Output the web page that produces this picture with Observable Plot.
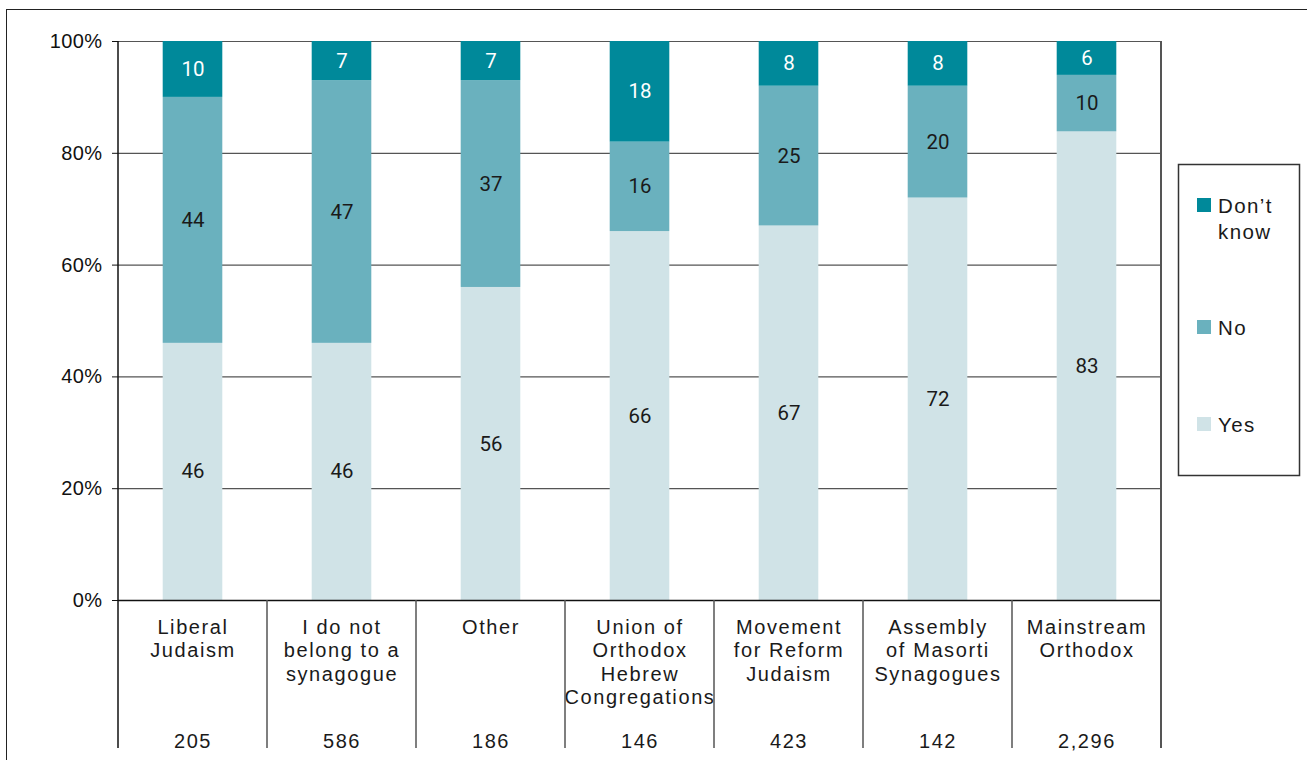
<!DOCTYPE html>
<html>
<head>
<meta charset="utf-8">
<script src="https://cdn.jsdelivr.net/npm/d3@7"></script>
<script src="https://cdn.jsdelivr.net/npm/@observablehq/plot@0.6"></script>
<style>
  html, body { margin: 0; padding: 0; background: #fff; }
  #wrap { position: relative; width: 1307px; height: 760px; overflow: hidden; }
  #frame { position: absolute; left: 6px; top: 9px; width: 1400px; height: 900px;
           border-left: 1.5px solid #222; border-top: 1.5px solid #222; pointer-events: none; }
  #legend { position: absolute; left: 0; top: 0; pointer-events: none; }
</style>
</head>
<body>
<div id="wrap"></div>
<script>
const categories = [
  "Liberal\nJudaism",
  "I do not\nbelong to a\nsynagogue",
  "Other",
  "Union of\nOrthodox\nHebrew\nCongregations",
  "Movement\nfor Reform\nJudaism",
  "Assembly\nof Masorti\nSynagogues",
  "Mainstream\nOrthodox"
];
const sampleSizes = ["205", "586", "186", "146", "423", "142", "2,296"];
const responses = ["Yes", "No", "Don\u2019t know"];
const yesValues = [46, 46, 56, 66, 67, 72, 83];
const noValues = [44, 47, 37, 16, 25, 20, 10];
const dontKnowValues = [10, 7, 7, 18, 8, 8, 6];
const yTicks = [0, 20, 40, 60, 80, 100];
const colors = ["#d0e3e7", "#6ab1be", "#00899a"];

const series = [yesValues, noValues, dontKnowValues];
const rows = [];
categories.forEach((c, i) => {
  responses.forEach((r, j) => rows.push({category: c, response: r, value: series[j][i]}));
});
const sizeRows = categories.map((c, i) => ({category: c, n: sampleSizes[i]}));

const W = 1307, H = 760;
const stackOpts = {x: "category", y: "value", z: "response", order: null, offset: "normalize"};
const catFont = "'Liberation Sans', Arial, Helvetica, sans-serif";
const valFont = "Roboto, 'Liberation Sans', sans-serif";

const chart = Plot.plot({
  width: W,
  height: H,
  marginLeft: 118,
  marginRight: 146,
  marginTop: 41,
  marginBottom: 160,
  style: {background: "transparent", overflow: "visible", color: "#111"},
  x: {domain: categories, paddingInner: 0.6, paddingOuter: 0.3, round: false, axis: null},
  y: {domain: [0, 1], axis: null},
  color: {domain: responses, range: colors},
  marks: [
    Plot.ruleY(yTicks.slice(1).map(t => t / 100), {stroke: "#555", strokeWidth: 1.2}),
    Plot.barY(rows, {...stackOpts, fill: "response"}),
    Plot.ruleY([0], {stroke: "#111", strokeWidth: 1.5}),
    Plot.axisY({
      ticks: yTicks.map(t => t / 100),
      tickFormat: d => Math.round(d * 100) + "%",
      tickSize: 6,
      tickPadding: 10,
      fontSize: 20,
      fontFamily: catFont,
      label: null,
      ariaDescription: "ytick"
    }),
    Plot.text(rows, {
      ...Plot.stackY({...stackOpts, text: "value"}),
      filter: d => d.response !== responses[2],
      fill: "#1a1a1a",
      fontSize: 20.5,
      fontFamily: valFont
    }),
    Plot.text(rows, {
      ...Plot.stackY({...stackOpts, text: "value"}),
      filter: d => d.response === responses[2],
      fill: "#ffffff",
      fontSize: 20.5,
      fontFamily: valFont
    }),
    Plot.text(categories, {
      x: d => d,
      text: d => d,
      frameAnchor: "bottom",
      lineAnchor: "top",
      dy: 17,
      lineHeight: 1.165,
      fontSize: 20,
      fontFamily: catFont,
      fill: "#1a1a1a",
      ariaDescription: "catlabels"
    }),
    Plot.text(sizeRows, {
      x: "category",
      text: "n",
      frameAnchor: "bottom",
      lineAnchor: "middle",
      dy: 141,
      fontSize: 20,
      fontFamily: catFont,
      fill: "#1a1a1a",
      ariaDescription: "catlabels"
    })
  ]
});

// letter spacing for category / size labels
d3.select(chart).selectAll('g[aria-description="catlabels"] text').attr("letter-spacing", "1.6");
d3.select(chart).selectAll('g[aria-description="ytick"] text').attr("letter-spacing", "0.4");

// band-edge dividers from the x scale
const xs = chart.scale("x");
const n = xs.domain.length;
const pInner = xs.paddingInner ?? 0.6;
const step = xs.step ?? (xs.range[1] - xs.range[0]) / (n - pInner + 2 * (xs.paddingOuter ?? 0.3));
const bw = xs.bandwidth ?? step * (1 - pInner);
const ys = chart.scale("y");
const y0 = ys.apply(0), y1 = ys.apply(1);
const yEnd = y0 + 148;
const edges = xs.domain.map(c => xs.apply(c) - (step - bw) / 2);
edges.push(edges[edges.length - 1] + step);
const svg = d3.select(chart);
const gEdges = svg.append("g");
edges.forEach((ex, i) => {
  const outer = (i === 0 || i === edges.length - 1);
  gEdges.append("line")
    .attr("x1", ex).attr("x2", ex)
    .attr("y1", outer ? y1 : y0).attr("y2", yEnd)
    .attr("stroke", i === 0 ? "#111" : "#555")
    .attr("stroke-width", i === edges.length - 1 ? 2 : 1.5);
});

const wrap = document.getElementById("wrap");
wrap.appendChild(chart);

// legend
const cs = chart.scale("color");
const leg = d3.create("svg").attr("id", "legend").attr("width", W).attr("height", H);
leg.append("rect").attr("x", 1178.5).attr("y", 164.5).attr("width", 121).attr("height", 311)
  .attr("fill", "none").attr("stroke", "#333").attr("stroke-width", 1.5);
const legItems = [
  {r: responses[2], sy: 198, lines: ["Don\u2019t", "know"]},
  {r: responses[1], sy: 320, lines: [responses[1]]},
  {r: responses[0], sy: 417, lines: [responses[0]]}
];
legItems.forEach(it => {
  leg.append("rect").attr("x", 1197).attr("y", it.sy).attr("width", 14).attr("height", 14)
    .attr("fill", cs.apply(it.r));
  it.lines.forEach((t, k) => {
    leg.append("text").attr("x", 1218).attr("y", it.sy + 15 + k * 26)
      .attr("font-family", catFont).attr("font-size", 20.5).attr("letter-spacing", "1.4")
      .attr("fill", "#1a1a1a").text(t);
  });
});
wrap.appendChild(leg.node());

const frame = document.createElement("div");
frame.id = "frame";
wrap.appendChild(frame);
</script>
</body>
</html>
